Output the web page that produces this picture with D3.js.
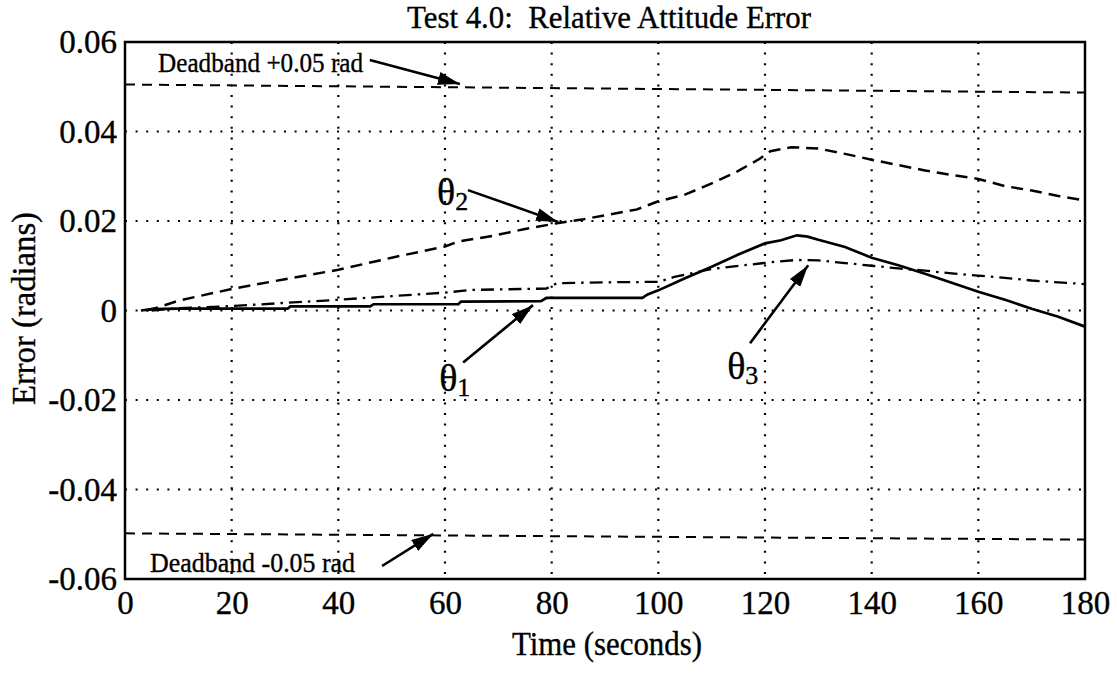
<!DOCTYPE html>
<html>
<head>
<meta charset="utf-8">
<script src="https://cdnjs.cloudflare.com/ajax/libs/d3/7.8.5/d3.min.js"></script>
<style>
    body { margin: 0; background: #fff; }
    text { font-family: "Liberation Serif", "Times New Roman", serif; fill: #000; stroke: #000; stroke-width: 0.35px; }
</style>
</head>
<body>
<div id="chart"></div>
<script>
// tick values
const xTicks = [0, 20, 40, 60, 80, 100, 120, 140, 160, 180];
const yTicks = [-0.06, -0.04, -0.02, 0, 0.02, 0.04, 0.06];

// theta 1 (solid)
const theta1Time = [3, 5, 10, 20, 30.5, 31, 46, 46.6, 62.5, 63, 78, 79, 97, 98, 100, 105, 110, 115, 120, 123, 126, 128, 130, 135, 140, 145, 150, 155, 160, 165, 170, 175, 180];
const theta1Values = [0, 0.0003, 0.0004, 0.0004, 0.0004, 0.0009, 0.0009, 0.0014, 0.0014, 0.0020, 0.0021, 0.0028, 0.0028, 0.0036, 0.0045, 0.0072, 0.0098, 0.0125, 0.0150, 0.0157, 0.0168, 0.0165, 0.0158, 0.0142, 0.0118, 0.0101, 0.0082, 0.0062, 0.0042, 0.0024, 0.0004, -0.0014, -0.0036];

// theta 2 (dashed)
const theta2Time = [4, 6, 10, 20, 30, 40, 50, 60, 62.5, 69, 75, 81, 86, 91, 96, 100, 105, 110, 115, 119, 121, 125, 130, 135, 140, 145, 150, 155, 160, 165, 170, 175, 180];
const theta2Values = [0, 0.0006, 0.0022, 0.0048, 0.0070, 0.0091, 0.0118, 0.0143, 0.0154, 0.0167, 0.0182, 0.0195, 0.0204, 0.0215, 0.0226, 0.0244, 0.0259, 0.0284, 0.0312, 0.0339, 0.0356, 0.0365, 0.0362, 0.0350, 0.0337, 0.0325, 0.0313, 0.0303, 0.0294, 0.0278, 0.0268, 0.0256, 0.0246];

// theta 3 (dash-dot)
const theta3Time = [5, 10, 20, 30, 40, 50, 60, 65, 79, 81, 90, 100, 103, 110, 119, 122, 126, 130, 135, 140, 145, 150, 155, 160, 165, 170, 175, 180];
const theta3Values = [0, 0.0005, 0.0010, 0.0017, 0.0024, 0.0032, 0.0040, 0.0046, 0.0049, 0.0061, 0.0063, 0.0064, 0.0075, 0.0093, 0.0105, 0.0109, 0.0113, 0.0112, 0.0106, 0.0100, 0.0094, 0.0089, 0.0083, 0.0078, 0.0073, 0.0067, 0.0063, 0.0059];

// deadband limits
const deadbandTime = [0, 180];
const deadbandUpper = [0.0505, 0.0487];
const deadbandLower = [-0.0498, -0.0512];

// annotations, in data units: [label, sub, text t, text v, arrow from t, v, arrow to t, v]
const notes = [
    ["Deadband +0.05 rad", "", 6.2, 0.0533, 45.9, 0.0560, 62.8, 0.0506],
    ["Deadband -0.05 rad", "", 4.7, -0.0584, 48.2, -0.0571, 57.8, -0.0499],
    ["θ", "2", 58.5, 0.0236, 64.3, 0.0269, 81.2, 0.0198],
    ["θ", "1", 58.9, -0.0180, 63.4, -0.0116, 76.5, 0.0012],
    ["θ", "3", 112.9, -0.0153, 117.2, -0.0073, 128.1, 0.0101]
];

class LineChart {

    constructor(parentElement) {
        this.parentElement = parentElement;
        this.initVis();
    }

    initVis() {
        let vis = this;

        vis.margin = {top: 42, right: 32, bottom: 97, left: 125};
        vis.width = 960;
        vis.height = 537;

        vis.svg = d3.select("#" + vis.parentElement).append("svg")
            .attr("width", vis.width + vis.margin.left + vis.margin.right)
            .attr("height", vis.height + vis.margin.top + vis.margin.bottom)
            .append("g")
            .attr("transform", `translate(${vis.margin.left}, ${vis.margin.top})`);

        vis.x = d3.scaleLinear().domain([0, 180]).range([0, vis.width]);
        vis.y = d3.scaleLinear().domain([-0.06, 0.06]).range([vis.height, 0]);

        // arrow head
        vis.svg.append("defs").append("marker")
            .attr("id", "head")
            .attr("markerUnits", "userSpaceOnUse")
            .attr("viewBox", "0 0 22 13")
            .attr("refX", 22).attr("refY", 6.5)
            .attr("markerWidth", 22).attr("markerHeight", 13)
            .attr("orient", "auto")
            .append("path")
            .attr("d", "M0,0 L22,6.5 L0,13 Z")
            .attr("fill", "#000");

        // dotted grid
        vis.svg.append("g").selectAll("line")
            .data(xTicks.slice(1, -1))
            .join("line")
            .attr("x1", d => vis.x(d)).attr("x2", d => vis.x(d))
            .attr("y1", 0).attr("y2", vis.height)
            .attr("stroke", "#000").attr("stroke-width", 2.2)
            .attr("stroke-dasharray", "2 8.6");

        vis.svg.append("g").selectAll("line")
            .data(yTicks.slice(1, -1))
            .join("line")
            .attr("x1", 0).attr("x2", vis.width)
            .attr("y1", d => vis.y(d)).attr("y2", d => vis.y(d))
            .attr("stroke", "#000").attr("stroke-width", 2.2)
            .attr("stroke-dasharray", "2 8.6");

        // axes
        vis.xAxis = d3.axisBottom(vis.x).tickValues(xTicks).tickSize(0).tickPadding(12);
        vis.yAxis = d3.axisLeft(vis.y).tickValues(yTicks).tickSize(0).tickPadding(8)
            .tickFormat(d => d === 0 ? "0" : d.toFixed(2));

        vis.svg.append("g")
            .attr("class", "x-axis axis")
            .attr("transform", `translate(0, ${vis.height})`)
            .call(vis.xAxis);

        vis.svg.append("g")
            .attr("class", "y-axis axis")
            .call(vis.yAxis);

        vis.svg.selectAll(".axis path").remove();
        vis.svg.selectAll(".axis text")
            .attr("font-size", 33)
            .attr("font-family", "Liberation Serif, Times New Roman, serif");

        // frame
        vis.svg.append("rect")
            .attr("width", vis.width).attr("height", vis.height)
            .attr("fill", "none").attr("stroke", "#000").attr("stroke-width", 2.5);

        // title and axis labels
        vis.svg.append("text")
            .text("Test 4.0:  Relative Attitude Error")
            .attr("x", vis.width / 2 + 4).attr("y", -14)
            .attr("text-anchor", "middle").attr("font-size", 32)
            .attr("textLength", 404).attr("lengthAdjust", "spacingAndGlyphs")
            .style("white-space", "pre");

        vis.svg.append("text")
            .text("Time (seconds)")
            .attr("x", vis.width / 2 + 2).attr("y", vis.height + 76)
            .attr("text-anchor", "middle").attr("font-size", 33)
            .attr("textLength", 190).attr("lengthAdjust", "spacingAndGlyphs");

        vis.svg.append("text")
            .text("Error (radians)")
            .attr("transform", `translate(-90, ${vis.height / 2 - 2}) rotate(-90)`)
            .attr("text-anchor", "middle").attr("font-size", 33)
            .attr("textLength", 193).attr("lengthAdjust", "spacingAndGlyphs");

        vis.updateVis();
    }

    updateVis() {
        let vis = this;

        vis.line = d3.line()
            .x(d => vis.x(d[0]))
            .y(d => vis.y(d[1]));

        const series = [
            {values: d3.zip(deadbandTime, deadbandUpper), dash: "10 7", width: 2},
            {values: d3.zip(deadbandTime, deadbandLower), dash: "10 7", width: 2},
            {values: d3.zip(theta3Time, theta3Values), dash: "13 6 2.5 6", width: 2.3},
            {values: d3.zip(theta2Time, theta2Values), dash: "12 7", width: 2.5},
            {values: d3.zip(theta1Time, theta1Values), dash: null, width: 2.7}
        ];

        vis.svg.selectAll(".series")
            .data(series)
            .join("path")
            .attr("class", "series")
            .attr("d", d => vis.line(d.values))
            .attr("fill", "none")
            .attr("stroke", "#000")
            .attr("stroke-width", d => d.width)
            .attr("stroke-dasharray", d => d.dash);

        // annotation arrows
        vis.svg.selectAll(".arrow")
            .data(notes)
            .join("line")
            .attr("class", "arrow")
            .attr("x1", d => vis.x(d[4])).attr("y1", d => vis.y(d[5]))
            .attr("x2", d => vis.x(d[6])).attr("y2", d => vis.y(d[7]))
            .attr("stroke", "#000").attr("stroke-width", 2.6)
            .attr("marker-end", "url(#head)");

        // annotation labels
        const labels = vis.svg.selectAll(".note")
            .data(notes)
            .join("text")
            .attr("class", "note")
            .attr("x", d => vis.x(d[2])).attr("y", d => vis.y(d[3]))
            .attr("font-size", d => d[1] ? 38 : 27);

        labels.filter(d => !d[1])
            .attr("textLength", 205).attr("lengthAdjust", "spacingAndGlyphs");

        labels.append("tspan").text(d => d[0]);
        labels.filter(d => d[1]).append("tspan")
            .text(d => d[1])
            .attr("font-size", 26)
            .attr("dy", 5);
    }
}

new LineChart("chart");
</script>
</body>
</html>
